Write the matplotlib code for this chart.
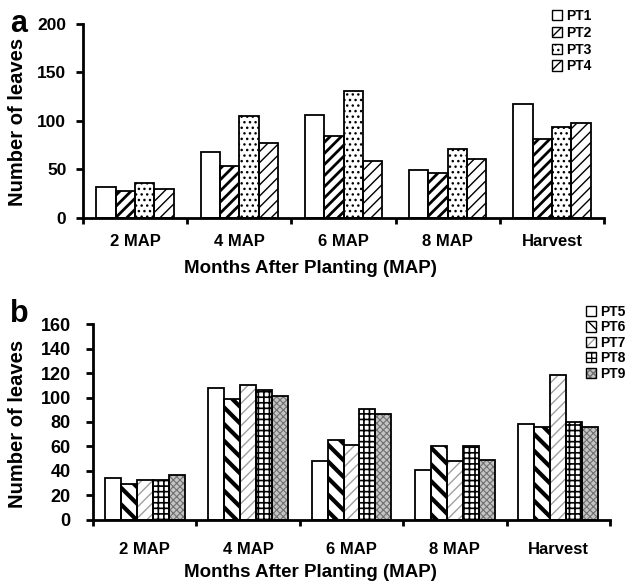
import matplotlib as mpl

mpl.use("Agg")
import matplotlib.pyplot as plt
from matplotlib.patches import Patch
import numpy as np

plt.rcParams["font.family"] = ["Liberation Sans", "DejaVu Sans"]
plt.rcParams["font.weight"] = "bold"

MONTHS = ["2 MAP", "4 MAP", "6 MAP", "8 MAP", "Harvest"]

# panel a: leaves per plant type
NAMES_A = ["PT1", "PT2", "PT3", "PT4"]
PT1 = [32, 68, 106, 49, 117]
PT2 = [28, 53, 84, 46, 81]
PT3 = [36, 105, 131, 71, 94]
PT4 = [30, 77, 58, 60, 98]

# panel b
NAMES_B = ["PT5", "PT6", "PT7", "PT8", "PT9"]
PT5 = [34.5, 108, 48, 41, 78.5]
PT6 = [29, 99, 65, 60, 76]
PT7 = [32.5, 110, 61.5, 48, 118.5]
PT8 = [32.5, 106, 91, 60, 80]
PT9 = [36.5, 101, 86.5, 49, 76]

# (face, hatch colour, hatch, hatch linewidth)
STYLE_A = [
    ("white", "black", "", 1.0),
    ("white", "black", "///", 2.0),
    ("white", "black", "...", 1.0),
    ("white", "black", "///", 1.0),
]
STYLE_B = [
    ("white", "black", "", 1.0),
    ("white", "black", "\\\\", 3.0),
    ("white", "#a0a0a0", "///", 1.0),
    ("white", "black", "+++", 1.2),
    ("#c4c4c4", "#707070", "xxxxx", 0.8),
]

W, H = 631, 585
fig = plt.figure(figsize=(W / 100, H / 100), dpi=100)


def px_axes(x0, x1, y_top, y_bot):
    return fig.add_axes([x0 / W, 1 - y_bot / H, (x1 - x0) / W, (y_bot - y_top) / H])


def hatched_bars(ax, x, vals, width, style):
    face, hcol, hatch, hlw = style
    with plt.rc_context({"hatch.linewidth": hlw}):
        bars = ax.bar(x, vals, width, color=face, edgecolor=hcol, hatch=hatch,
                      linewidth=0, zorder=2)
    for b in bars:
        if hasattr(b, "set_hatch_linewidth"):
            b.set_hatch_linewidth(hlw)
    ax.bar(x, vals, width, fill=False, edgecolor="black", linewidth=1.3, zorder=3)
    return bars


def legend_handle(style):
    face, hcol, hatch, hlw = style
    with plt.rc_context({"hatch.linewidth": hlw}):
        p = Patch(facecolor=face, edgecolor=hcol, hatch=hatch, linewidth=0)
    return (p, Patch(fill=False, edgecolor="black", linewidth=1.0))


def draw_panel(ax, series, styles, frac, ymax, ystep, ysize, ypad, xpad):
    n = len(series)
    width = frac / n
    centers = np.arange(len(MONTHS)) + 0.5
    for i, (vals, st) in enumerate(zip(series, styles)):
        x = centers - frac / 2 + width * (i + 0.5)
        hatched_bars(ax, x, vals, width, st)
    ax.set_xlim(0, len(MONTHS))
    ax.set_ylim(0, ymax)
    ax.set_xticks(np.arange(len(MONTHS) + 1))
    ax.set_xticklabels([])
    ax.set_xticks(centers, minor=True)
    ax.set_xticklabels(MONTHS, minor=True, fontsize=12, fontweight="bold")
    ax.tick_params(axis="x", which="minor", length=0, pad=xpad)
    ax.tick_params(axis="x", which="major", length=4, width=2, direction="out")
    ax.set_yticks(np.arange(0, ymax + 1, ystep))
    ax.tick_params(axis="y", length=5, width=2, direction="out", labelsize=ysize, pad=ypad)
    for lab in ax.get_yticklabels():
        lab.set_fontweight("bold")
    for s in ("top", "right"):
        ax.spines[s].set_visible(False)
    for s in ("left", "bottom"):
        ax.spines[s].set_linewidth(2.0)
    ax.set_ylabel("Number of leaves", fontsize=14.5, fontweight="bold")
    ax.set_xlabel("Months After Planting (MAP)", fontsize=13.5, fontweight="bold")
    return [legend_handle(st) for st in styles]


ax_a = px_axes(83, 604, 23.7, 217.7)
h_a = draw_panel(ax_a, [PT1, PT2, PT3, PT4], STYLE_A, 0.742, 200, 50, 12.5, 7, 12)
ax_a.yaxis.set_label_coords(27 / W, 1 - 122 / H, transform=fig.transFigure)
ax_a.xaxis.set_label_coords(310 / W, 1 - 260 / H, transform=fig.transFigure)
ax_a.legend(h_a, NAMES_A, loc="upper left", bbox_transform=fig.transFigure,
            bbox_to_anchor=(552 / W, 1 - 9 / H), frameon=False, fontsize=10,
            handlelength=0.75, handleheight=0.75, handletextpad=0.3,
            labelspacing=0.2, borderaxespad=0, borderpad=0)
fig.text(19 / W, 1 - 24 / H, "a", fontsize=22, fontweight="bold", ha="center", va="center")

ax_b = px_axes(93, 610, 324.4, 519.6)
h_b = draw_panel(ax_b, [PT5, PT6, PT7, PT8, PT9], STYLE_B, 0.773, 160, 20, 13, 11, 16)
ax_b.yaxis.set_label_coords(27 / W, 1 - 424 / H, transform=fig.transFigure)
ax_b.xaxis.set_label_coords(310 / W, 1 - 564 / H, transform=fig.transFigure)
ax_b.legend(h_b, NAMES_B, loc="upper left", bbox_transform=fig.transFigure,
            bbox_to_anchor=(586 / W, 1 - 305 / H), frameon=False, fontsize=10,
            handlelength=0.75, handleheight=0.75, handletextpad=0.3,
            labelspacing=0.1, borderaxespad=0, borderpad=0)
fig.text(19 / W, 1 - 314 / H, "b", fontsize=22, fontweight="bold", ha="center", va="center")

fig.savefig("out.png", dpi=100)
